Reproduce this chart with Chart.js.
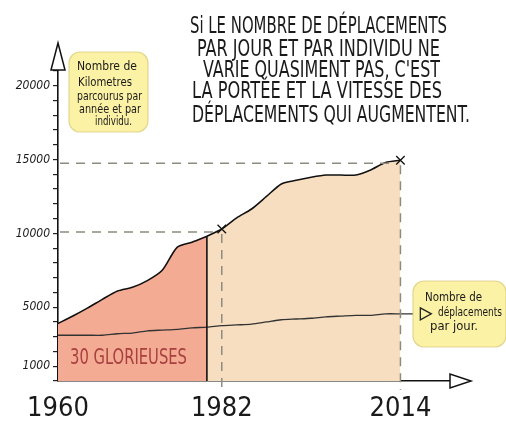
<!DOCTYPE html>
<html>
<head>
<meta charset="utf-8">
<script src="https://cdn.jsdelivr.net/npm/chart.js@4.4.1/dist/chart.umd.min.js"></script>
<style>
  html, body { margin: 0; padding: 0; background: #fff; }
  #wrap { width: 506px; height: 434px; }
</style>
</head>
<body>
<div id="wrap"><canvas id="km"></canvas></div>
<script>
// time axis as drawn: 1960-1982 is stretched compared to 1982-2014
var years = ["1960", "1962", "1964", "1966", "1968", "1970", "1972", "1974", "1976", "1978",
  "1980", "1982", "1985", "1987", "1990", "1993", "1995", "1998", "2001", "2003",
  "2006", "2009", "2011", "2014", "2017", "2019", "2022", "2025"];

// km per year and per person
var kmPerYear = [3900, 4400, 4950, 5550, 6100, 6350, 6800, 7500, 9050, 9400,
  9800, 10300, 11050, 11650, 12500, 13350, 13600, 13800, 13950, 13950,
  13950, 14300, 14800, 14950];

// trips per day (schematic, drawn on the same axis)
var tripsLine = [3100, 3100, 3100, 3100, 3200, 3250, 3400, 3450, 3500, 3600,
  3650, 3750, 3800, 3850, 4000, 4150, 4200, 4250, 4350, 4400,
  4450, 4450, 4550, 4550, 4550];

var yearLabels = ["1960", "1982", "2014"];
var yTickLabels = [1000, 5000, 10000, 15000, 20000];
var gloriousEnd = "1980";
var markYears = ["1982", "2014"];

var noteLines = [
  "Si LE NOMBRE DE DÉPLACEMENTS",
  "PAR JOUR ET PAR INDIVIDU NE",
  "VARIE QUASIMENT PAS, C'EST",
  "LA PORTÉE ET LA VITESSE DES",
  "DÉPLACEMENTS QUI AUGMENTENT."
];
var kmNote = ["Nombre de", "Kilometres", "parcourus par", "année et par", "individu."];
var tripsNote = ["Nombre de", "déplacements", "par jour."];

var handFont = '"Liberation Sans Narrow", "DejaVu Sans Condensed", "Roboto", sans-serif';

var gi = years.indexOf(gloriousEnd);
var redPart = kmPerYear.map(function (v, i) { return i <= gi ? v : null; });
var creamPart = kmPerYear.map(function (v, i) { return i >= gi ? v : null; });

// text squeezed or stretched to a given width, like the hand lettering
function fitText(ctx, txt, x0, x1, base) {
  var w = ctx.measureText(txt).width;
  ctx.save();
  ctx.translate(x0, base);
  ctx.scale((x1 - x0) / w, 1);
  ctx.fillText(txt, 0, 0);
  ctx.restore();
}

function roundBox(ctx, x, y, w, h, r) {
  ctx.beginPath();
  ctx.moveTo(x + r, y);
  ctx.arcTo(x + w, y, x + w, y + h, r);
  ctx.arcTo(x + w, y + h, x, y + h, r);
  ctx.arcTo(x, y + h, x, y, r);
  ctx.arcTo(x, y, x + w, y, r);
  ctx.closePath();
  ctx.fillStyle = "#fbf2a6";
  ctx.fill();
  ctx.strokeStyle = "rgba(215,200,120,0.7)";
  ctx.lineWidth = 1.2;
  ctx.stroke();
}

function triangle(ctx, pts, fill) {
  ctx.beginPath();
  ctx.moveTo(pts[0], pts[1]);
  ctx.lineTo(pts[2], pts[3]);
  ctx.lineTo(pts[4], pts[5]);
  ctx.closePath();
  if (fill) { ctx.fillStyle = fill; ctx.fill(); }
  ctx.stroke();
}

var sketch = {
  id: "sketch",
  afterDatasetsDraw: function (chart) {
    var ctx = chart.ctx, x = chart.scales.x, y = chart.scales.y;
    var area = chart.chartArea;
    ctx.save();
    // end of the 30 glorieuses
    var gx = x.getPixelForValue(gi);
    ctx.strokeStyle = "#111";
    ctx.lineWidth = 1.6;
    ctx.beginPath();
    ctx.moveTo(gx, y.getPixelForValue(kmPerYear[gi]));
    ctx.lineTo(gx, area.bottom);
    ctx.stroke();

    // dashed guides to the marked years
    ctx.strokeStyle = "#8d8c80";
    ctx.lineWidth = 1.5;
    ctx.setLineDash([9, 7]);
    markYears.forEach(function (yr) {
      var i = years.indexOf(yr);
      var px = x.getPixelForValue(i), py = y.getPixelForValue(kmPerYear[i]);
      ctx.beginPath();
      ctx.moveTo(area.left + 2, py + 3);
      ctx.lineTo(px - 5, py + 3);
      ctx.moveTo(px, py + 5);
      ctx.lineTo(px, area.bottom + 9);
      ctx.stroke();
    });
    ctx.setLineDash([]);

    ctx.fillStyle = "#a8403f";
    ctx.font = "21px " + handFont;
    fitText(ctx, "30 GLORIEUSES", 70, 187, 364);
    ctx.restore();
  },
  afterDraw: function (chart) {
    var ctx = chart.ctx, x = chart.scales.x, y = chart.scales.y;
    var area = chart.chartArea;
    ctx.save();
    ctx.strokeStyle = "#111";
    ctx.lineWidth = 1.5;
    // axis arrows
    triangle(ctx, [area.left - 7, area.top - 1, area.left + 7, area.top - 1, area.left, area.top - 28], "#fff");
    triangle(ctx, [450, area.bottom - 7, 450, area.bottom + 7, 471, area.bottom], "#fff");

    // callouts
    roundBox(ctx, 69, 52, 79, 80, 11);
    roundBox(ctx, 413, 281, 93, 66, 11);

    var li = tripsLine.length - 1;
    var ax = x.getPixelForValue(li), ay = y.getPixelForValue(tripsLine[li]);
    ctx.strokeStyle = "#222";
    ctx.lineWidth = 1.3;
    triangle(ctx, [ax + 5, ay - 6, ax + 5, ay + 6, ax + 16, ay], null);

    ctx.fillStyle = "#1a1a1a";
    ctx.font = "13px " + handFont;
    var kmPos = [[77, 137, 70], [78, 132, 86], [77, 142, 100], [79, 141, 113], [95, 132, 125]];
    kmNote.forEach(function (t, i) { fitText(ctx, t, kmPos[i][0], kmPos[i][1], kmPos[i][2]); });
    var trPos = [[425, 482, 301], [438, 502, 316], [430, 478, 330]];
    tripsNote.forEach(function (t, i) { fitText(ctx, t, trPos[i][0], trPos[i][1], trPos[i][2]); });

    ctx.font = "23px " + handFont;
    var notePos = [[190, 447, 33], [197, 440, 56], [203, 440, 77], [192, 442, 98], [192, 470, 122]];
    noteLines.forEach(function (t, i) { fitText(ctx, t, notePos[i][0], notePos[i][1], notePos[i][2]); });
    ctx.restore();
  }
};

new Chart(document.getElementById("km"), {
  type: "line",
  data: {
    labels: years,
    datasets: [
      {
        label: "Nombre de déplacements par jour",
        data: tripsLine,
        borderColor: "#333",
        borderWidth: 1.3,
        pointRadius: 0,
        tension: 0.25,
        fill: false
      },
      {
        label: "30 glorieuses",
        data: redPart,
        borderColor: "#111",
        borderWidth: 1.6,
        backgroundColor: "#f4ab94",
        pointRadius: 0,
        tension: 0.25,
        fill: "origin"
      },
      {
        label: "Kilomètres par an et par individu",
        data: creamPart,
        borderColor: "#111",
        borderWidth: 1.6,
        backgroundColor: "#f8dec0",
        tension: 0.25,
        fill: "origin",
        pointStyle: "crossRot",
        pointBorderColor: "#111",
        pointBorderWidth: 1.3,
        pointRadius: function (c) {
          return markYears.indexOf(years[c.dataIndex]) >= 0 ? 6 : 0;
        }
      }
    ]
  },
  options: {
    responsive: true,
    maintainAspectRatio: false,
    animation: false,
    layout: { padding: { left: 0, right: 46, top: 71, bottom: 0 } },
    plugins: {
      legend: { display: false },
      tooltip: { enabled: false }
    },
    scales: {
      x: {
        grid: { display: false },
        border: { display: true, color: "#111", width: 1.6 },
        afterFit: function (s) { s.height = 53; },
        ticks: {
          autoSkip: false,
          maxRotation: 0,
          padding: 4,
          color: "#1a1a1a",
          font: { family: handFont, size: 27 },
          callback: function (v, i) {
            return yearLabels.indexOf(years[i]) >= 0 ? years[i] : "";
          }
        }
      },
      y: {
        min: 0,
        max: 21000,
        afterFit: function (s) { s.width = 58; },
        grid: { drawOnChartArea: false, drawTicks: true, tickLength: 5, color: "#222", lineWidth: 1.2 },
        border: { display: true, color: "#111", width: 1.6 },
        ticks: {
          stepSize: 1000,
          autoSkip: false,
          padding: 3,
          color: "#1a1a1a",
          font: { family: handFont, size: 12, style: "italic" },
          callback: function (v) {
            return yTickLabels.indexOf(v) >= 0 ? String(v) : "";
          }
        }
      }
    }
  },
  plugins: [sketch]
});
</script>
</body>
</html>
